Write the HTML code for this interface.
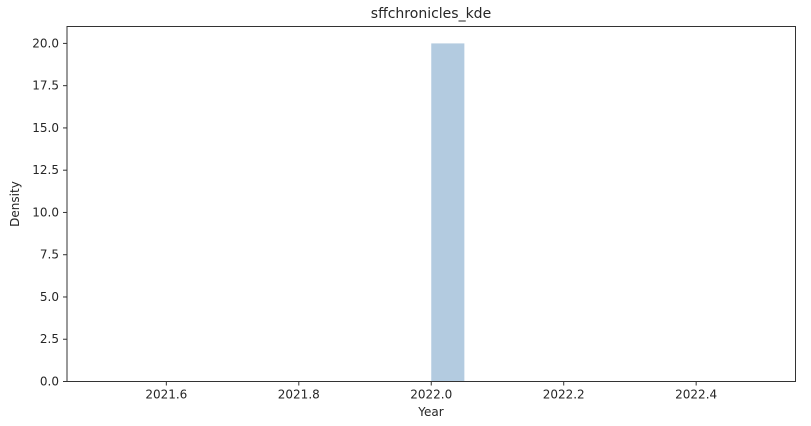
<!DOCTYPE html>
<html><head><meta charset="utf-8"><style>
body{margin:0;background:#fff;width:811px;height:421px;overflow:hidden}
svg text{font-family:"DejaVu Sans","Liberation Sans",sans-serif;fill:#262626}
</style></head><body>
<svg id="chart" width="811" height="421">
<text x="431" y="18" font-size="14" text-anchor="middle">sffchronicles_kde</text>
<g id="marks"></g>
<g id="axes"></g>
<text x="431" y="416" font-size="12" text-anchor="middle">Year</text>
<text transform="translate(19,204) rotate(-90)" font-size="12" text-anchor="middle">Density</text>
</svg>
<script>
const binStarts=[2022.0];
const binWidth=0.05;
const densities=[20];
const xTicks=[2021.6,2021.8,2022.0,2022.2,2022.4];
const yTicks=[0,2.5,5,7.5,10,12.5,15,17.5,20];
const L=67,R=795.5,T=26.5,B=381.5,xmin=2021.45,xmax=2022.55,ymax=21;
const X=v=>L+(v-xmin)/(xmax-xmin)*(R-L);
const Y=v=>B-v/ymax*(B-T);
const NS="http://www.w3.org/2000/svg";
const marks=document.getElementById('marks'),axes=document.getElementById('axes');
function mk(tag,attrs,parent){const e=document.createElementNS(NS,tag);for(const k in attrs)e.setAttribute(k,attrs[k]);parent.appendChild(e);return e;}
binStarts.forEach((s,i)=>{
 const r=mk('rect',{x:X(s),y:Y(densities[i]),width:X(s+binWidth)-X(s),height:B-Y(densities[i]),fill:'#b3cbe0'},marks);
 
 
});
const frame=mk('rect',{x:L,y:T,width:R-L,height:B-T,fill:'none',stroke:'#333','stroke-width':1},axes);


xTicks.forEach(t=>{
 mk('line',{x1:X(t),x2:X(t),y1:B,y2:B+4,stroke:'#333'},axes);
 const tx=mk('text',{x:X(t),y:B+17,'font-size':12,'text-anchor':'middle'},axes);
 tx.textContent=t.toFixed(1);
 
 
});
yTicks.forEach(t=>{
 mk('line',{x1:L-4,x2:L,y1:Y(t),y2:Y(t),stroke:'#333'},axes);
 const tx=mk('text',{x:L-8,y:Y(t)+4,'font-size':12,'text-anchor':'end'},axes);
 tx.textContent=t.toFixed(1);
 
 
});
</script>
</body></html>
